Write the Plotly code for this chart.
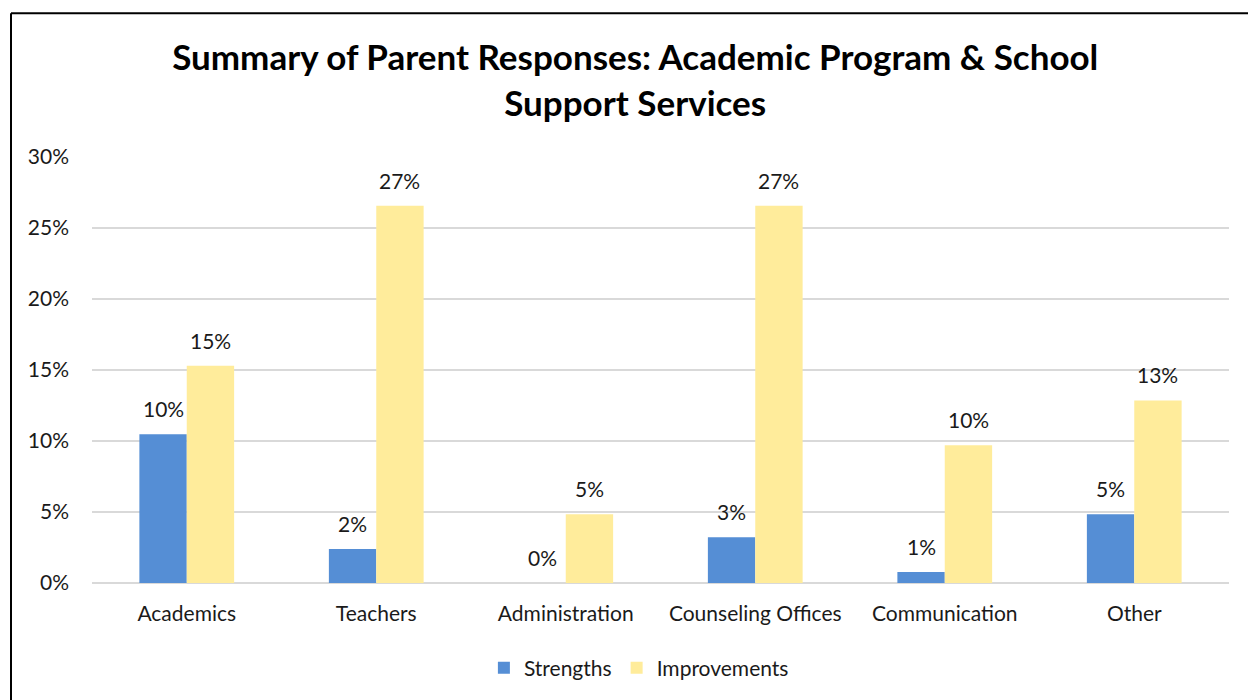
import plotly.graph_objects as go

categories = ["Academics", "Teachers", "Administration", "Counseling Offices", "Communication", "Other"]
strengths = [0.1047, 0.0239, 0.0, 0.0323, 0.0077, 0.0485]
improvements = [0.1530, 0.2656, 0.0485, 0.2656, 0.0970, 0.1286]
y_ticks = [0, 0.05, 0.10, 0.15, 0.20, 0.25, 0.30]
y_tick_labels = ["0%", "5%", "10%", "15%", "20%", "25%", "30%"]

FONT = "Lato"
TEXT = "#1a1a1a"
SIZE = 21

series = [
    ("Strengths", strengths, "#558ED5", -23.5),
    ("Improvements", improvements, "#FFEC9B", 23.5),
]

fig = go.Figure()
annotations = []
for name, values, color, dx in series:
    fig.add_trace(go.Bar(
        name=name, x=categories, y=values,
        marker=dict(color=color, line=dict(width=0)),
    ))
    # value labels sit a little above each bar, like the classic data-label style
    for cat, v in zip(categories, values):
        annotations.append(dict(
            x=cat, y=v, xref="x", yref="y", text=f"{v:.0%}",
            showarrow=False, xshift=dx, yshift=11, yanchor="bottom",
            font=dict(family=FONT, size=SIZE, color=TEXT),
        ))

fig.update_layout(
    width=1248, height=700,
    margin=dict(l=92, r=19, t=157, b=116),
    paper_bgcolor="white", plot_bgcolor="white",
    barmode="group", bargap=0.5, bargroupgap=0,
    font=dict(family=FONT, size=SIZE, color=TEXT),
    title=dict(
        text="<b>Summary of Parent Responses: Academic Program & School<br>Support Services</b>",
        x=0.509, xanchor="center", y=1 - 70 / 700, yanchor="middle",
        font=dict(family=FONT, size=35, color="black"),
    ),
    showlegend=True,
    legend=dict(
        orientation="h", x=0.481, xanchor="center", y=-0.197, yanchor="middle",
        font=dict(family=FONT, size=SIZE, color=TEXT), itemwidth=30,
        traceorder="normal",
    ),
    xaxis=dict(
        showgrid=False, showline=False, ticks="", ticklabelstandoff=16,
        tickfont=dict(family=FONT, size=SIZE, color=TEXT),
    ),
    yaxis=dict(
        range=[0, 0.30], tickvals=y_ticks, ticktext=y_tick_labels,
        showgrid=True, gridcolor="#D9D9D9", gridwidth=2,
        zeroline=True, zerolinecolor="#D9D9D9", zerolinewidth=2,
        showline=False, ticks="", ticklabelstandoff=22,
        tickfont=dict(family=FONT, size=SIZE, color=TEXT),
    ),
    annotations=annotations,
    shapes=[
        dict(type="line", xref="paper", yref="paper",
             x0=(11 - 92) / 1137, x1=(11 - 92) / 1137,
             y0=(584 - 13) / 427, y1=(584 - 720) / 427,
             line=dict(color="black", width=2)),
        dict(type="line", xref="paper", yref="paper",
             x0=(11 - 92) / 1137, x1=(1260 - 92) / 1137,
             y0=(584 - 13) / 427, y1=(584 - 13) / 427,
             line=dict(color="black", width=2)),
    ],
)

fig.write_html("out.html")
